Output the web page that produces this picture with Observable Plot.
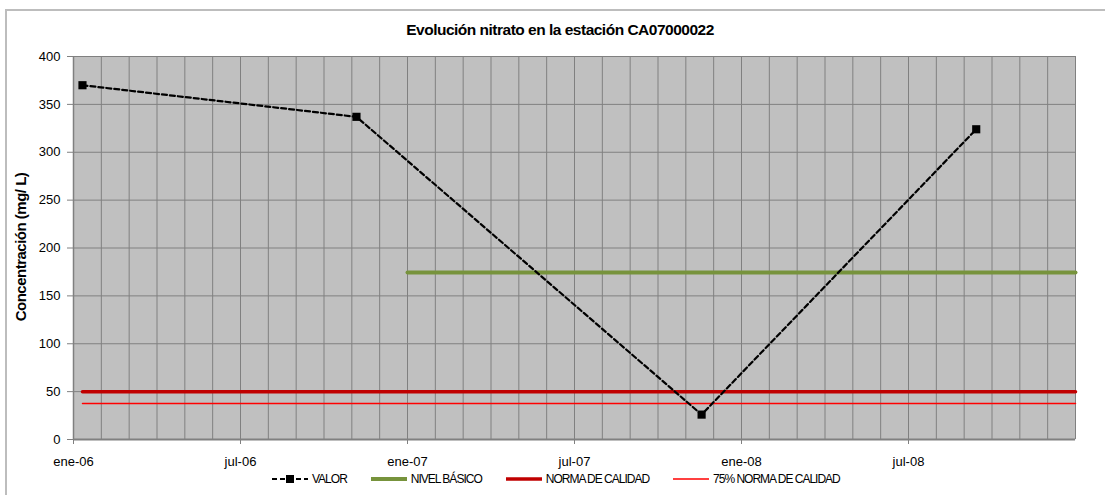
<!DOCTYPE html>
<html>
<head>
<meta charset="utf-8">
<script src="https://cdn.jsdelivr.net/npm/d3@7"></script>
<script src="https://cdn.jsdelivr.net/npm/@observablehq/plot@0.6"></script>
<style>
html,body{margin:0;padding:0;background:#fff;overflow:hidden;}
body{font-family:Arial,"Liberation Sans",sans-serif;}
#wrap{position:relative;width:1105px;height:495px;overflow:hidden;}
#frame{position:absolute;left:5px;top:9px;width:1110px;height:500px;border:2px solid #bdbdbd;box-sizing:border-box;}
#title{position:absolute;left:0;width:1120px;top:21px;text-align:center;font-weight:bold;font-size:15.5px;letter-spacing:-0.5px;color:#000;}
#ylabel{position:absolute;left:20px;top:247px;transform:translate(-50%,-50%) rotate(-90deg);white-space:nowrap;font-weight:bold;font-size:15px;letter-spacing:-0.5px;color:#000;}
#chart{position:absolute;left:0;top:0;}
#chart svg g[aria-label*="axis"] line,#chart svg g[aria-label*="axis"] path{stroke:#808080;}
#legend{position:absolute;left:272px;top:472px;display:flex;align-items:center;gap:24px;font-size:12px;letter-spacing:-1px;color:#000;}
.item{display:flex;align-items:center;gap:4px;}
.item svg{display:block;}
</style>
</head>
<body>
<div id="wrap">
  <div id="frame"></div>
  <div id="chart"></div>
  <div id="title"></div>
  <div id="ylabel"></div>
  <div id="legend"></div>
</div>
<script>
// ---- data ----
const titleText = "Evolución nitrato en la estación CA07000022";
const yLabelText = "Concentración (mg/ L)";
const sampleDates = ["2006-01-11", "2006-11-06", "2007-11-18", "2008-09-14"];
const valorValues = [370, 337, 26, 324];
const nivelBasicoDates = ["2007-01-01", "2009-01-01"];
const nivelBasicoValue = 174.5;
const normaDates = ["2006-01-11", "2009-01-01"];
const normaValue = 50;
const norma75Value = 37.5;
const xTickDates = ["2006-01-01", "2006-07-01", "2007-01-01", "2007-07-01", "2008-01-01", "2008-07-01"];
const xTickLabels = ["ene-06", "jul-06", "ene-07", "jul-07", "ene-08", "jul-08"];
const yTicks = [0, 50, 100, 150, 200, 250, 300, 350, 400];
const axisStart = "2006-01-01";
const axisEnd = "2009-01-01";
const seriesNames = ["VALOR", "NIVEL BÁSICO", "NORMA DE CALIDAD", "75% NORMA DE CALIDAD"];

// month index (month-based axis like the spreadsheet's date axis)
function monthIdx(s) {
  const [y, m, d] = s.split("-").map(Number);
  const dim = new Date(y, m, 0).getDate();
  return (y - 2006) * 12 + (m - 1) + (d - 1) / dim;
}
const x0 = monthIdx(axisStart), x1 = monthIdx(axisEnd);
const monthLines = d3.range(x0, x1 + 1);

const valor = sampleDates.map((d, i) => ({x: monthIdx(d), y: valorValues[i]}));
const nivel = nivelBasicoDates.map(d => ({x: monthIdx(d), y: nivelBasicoValue}));
const norma = normaDates.map(d => ({x: monthIdx(d), y: normaValue}));
const norma75 = normaDates.map(d => ({x: monthIdx(d), y: norma75Value}));
const tickPos = xTickDates.map(monthIdx);
const tickMap = new Map(tickPos.map((p, i) => [p, xTickLabels[i]]));

const green = "#77933C", darkRed = "#C00000", red = "#FF0000", grid = "#808080";

const chart = Plot.plot({
  width: 1105,
  height: 475,
  marginTop: 56,
  marginBottom: 36,
  marginLeft: 73,
  marginRight: 30,
  style: {fontSize: "13px", fontFamily: "Arial, 'Liberation Sans', sans-serif", background: "transparent", color: "#000"},
  x: {type: "linear", domain: [x0, x1], ticks: tickPos, tickFormat: v => tickMap.get(v) ?? "", tickSize: 5, tickPadding: 12, label: null},
  y: {domain: [0, 400], ticks: yTicks, tickSize: 6, tickPadding: 7, label: null},
  marks: [
    Plot.frame({fill: "#C0C0C0", stroke: "none"}),
    Plot.ruleX(monthLines, {stroke: grid, strokeWidth: 1}),
    Plot.ruleY(yTicks, {stroke: grid, strokeWidth: 1}),
    Plot.ruleX([x0], {stroke: grid, strokeWidth: 1.5}),
    Plot.ruleY([0], {stroke: grid, strokeWidth: 2}),
    Plot.line(nivel, {x: "x", y: "y", stroke: green, strokeWidth: 4}),
    Plot.line(norma, {x: "x", y: "y", stroke: darkRed, strokeWidth: 3.5}),
    Plot.line(norma75, {x: "x", y: "y", stroke: red, strokeWidth: 1.5}),
    Plot.line(valor, {x: "x", y: "y", stroke: "#000", strokeWidth: 2.2, strokeDasharray: "5,3"}),
    Plot.dot(valor, {x: "x", y: "y", symbol: "square", r: 4.6, fill: "#000", stroke: "none"})
  ]
});
document.getElementById("chart").appendChild(chart);
document.getElementById("title").textContent = titleText;
document.getElementById("ylabel").textContent = yLabelText;

// legend
const swatches = [
  `<svg width="36" height="10"><line x1="0" y1="5" x2="36" y2="5" stroke="#000" stroke-width="2" stroke-dasharray="5,3"/><rect x="14" y="1" width="8" height="8" fill="#000"/></svg>`,
  `<svg width="36" height="10"><line x1="0" y1="5" x2="36" y2="5" stroke="${green}" stroke-width="4"/></svg>`,
  `<svg width="36" height="10"><line x1="0" y1="5" x2="36" y2="5" stroke="${darkRed}" stroke-width="3.5"/></svg>`,
  `<svg width="36" height="10"><line x1="0" y1="5" x2="36" y2="5" stroke="${red}" stroke-width="1.5"/></svg>`
];
const legend = document.getElementById("legend");
seriesNames.forEach((n, i) => {
  const it = document.createElement("div");
  it.className = "item";
  it.innerHTML = swatches[i];
  const s = document.createElement("span");
  s.textContent = n;
  it.appendChild(s);
  legend.appendChild(it);
});
</script>
</body>
</html>
